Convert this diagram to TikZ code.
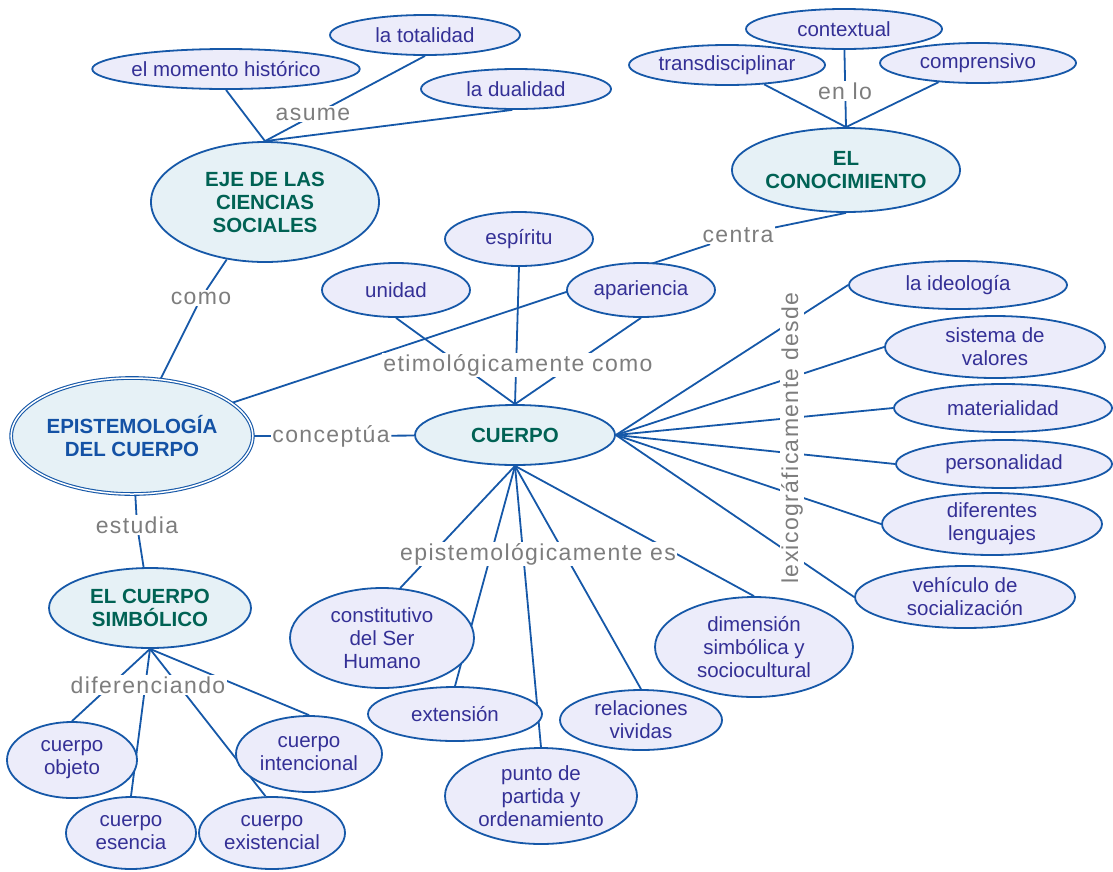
\documentclass[tikz,border=0pt]{standalone}
\usepackage{fontspec}
\setmainfont{Liberation Sans}
\newfontfamily\phrasefamily[LetterSpace=6]{Liberation Sans}
\usepackage{tikz}
\usetikzlibrary{shapes.geometric,backgrounds,positioning}

\definecolor{linkblue}{RGB}{22,88,168}
\definecolor{leaffill}{RGB}{236,236,250}
\definecolor{leaftext}{RGB}{52,48,150}
\definecolor{conceptfill}{RGB}{230,241,246}
\definecolor{concepttext}{RGB}{0,98,84}
\definecolor{epitext}{RGB}{20,82,165}
\definecolor{phrasegray}{RGB}{125,125,125}

\tikzset{
  leaf/.style={ellipse, draw=linkblue, line width=1.8pt, fill=leaffill, text=leaftext,
    align=center, inner sep=0pt, font=\fontsize{20.5}{23}\selectfont},
  concept/.style={ellipse, draw=linkblue, line width=1.8pt, fill=conceptfill, text=concepttext,
    align=center, inner sep=0pt, font=\fontsize{20.5}{23}\selectfont\bfseries},
  linkphrase/.style={fill=white, text=phrasegray, inner sep=1.5pt,
    font=\phrasefamily\fontsize{23}{25}\selectfont},
  connector/.style={draw=linkblue, line width=1.8pt}
}

\begin{document}
\begin{tikzpicture}[x=1pt,y=-1pt]
    \useasboundingbox (0,0) rectangle (1113,871);

    % Concepts
    \node[concept, minimum width=228, minimum height=120] (eje) at (265,202) {EJE DE LAS\\CIENCIAS\\SOCIALES};
    \node[concept, minimum width=228, minimum height=84] (conoc) at (846,170) {EL\\CONOCIMIENTO};
    \node[concept, text=epitext, line width=1.1pt, double=white, double distance=1.5pt,
          minimum width=232, minimum height=116] (epist) at (132,436) {EPISTEMOLOGÍA\\DEL CUERPO};
    \node[concept, minimum width=200, minimum height=60] (cuerpo) at (515,435) {CUERPO};
    \node[concept, minimum width=202, minimum height=80] (simb) at (150,608) {EL CUERPO\\SIMBÓLICO};

    % Leaves
    \foreach \nm/\x/\y/\w/\h/\txt in {
        totalidad/425/35/190/40/la totalidad,
        momento/226/69/258/40/el momento histórico,
        dualidad/516/89/190/40/la dualidad,
        contextual/844/29/196/40/contextual,
        transdisc/727/65/196/40/transdisciplinar,
        comprensivo/978/63/196/40/comprensivo,
        espiritu/519/239/148/54/espíritu,
        unidad/396/290/148/54/unidad,
        apariencia/641/290/148/54/apariencia,
        ideologia/958/285/218/48/la ideología,
        valores/995/347/220/62/{sistema de\\valores},
        material/1003/408/218/48/materialidad,
        personal/1004/464/216/48/personalidad,
        lenguajes/992/524/220/62/{diferentes\\lenguajes},
        socializ/965/597/220/62/{vehículo de\\socialización},
        constit/382/638/184/100/{constitutivo\\del Ser\\Humano},
        extension/455/714/174/54/extensión,
        punto/541/796/192/96/{punto de\\partida y\\ordenamiento},
        relaciones/641/720/162/60/{relaciones\\vividas},
        dimension/754/647/198/100/{dimensión\\simbólica y\\sociocultural},
        objeto/72/760/130/76/{cuerpo\\objeto},
        esencia/131/833/130/72/{cuerpo\\esencia},
        intencional/309/754/146/76/{cuerpo\\intencional},
        existencial/272/833/146/72/{cuerpo\\existencial}}
        \node[leaf, minimum width=\w, minimum height=\h] (\nm) at (\x,\y) {\txt};

    % Linking phrases
    \node[linkphrase] (asume) at (313,114) {asume};
    \node[linkphrase] (enlo) at (845,91) {en lo};
    \node[linkphrase] (centra) at (738,235) {centra};
    \node[linkphrase] (como) at (201,298) {como};
    \node[linkphrase] (conceptua) at (331,436) {conceptúa};
    \node[linkphrase] (estudia) at (137,525) {estudia};
    \node[linkphrase] (etimo) at (518,365) {etimológicamente como};
    \node[linkphrase] (episte) at (538,554) {epistemológicamente es};
    \node[linkphrase, rotate=90] (lexico) at (792,438) {lexicográficamente desde};
    \node[linkphrase] (difer) at (148,685) {diferenciando};

    % Connectors
    \begin{pgfonlayer}{background}
    \foreach \leafname/\anc in {totalidad/south, momento/south, dualidad/260}
        \draw[connector] (eje.north) -- (\leafname.\anc);
    \foreach \leafname in {transdisc,contextual,comprensivo}
        \draw[connector] (conoc.north) -- (\leafname);
    \foreach \leafname in {unidad,espiritu,apariencia}
        \draw[connector] (cuerpo.north) -- (\leafname.south);
    \foreach \leafname in {ideologia,valores,material,personal,lenguajes,socializ}
        \draw[connector] (cuerpo.east) -- (\leafname.west);
    \foreach \leafname/\anc in {constit/70, extension/north, punto/north, relaciones/north, dimension/north}
        \draw[connector] (cuerpo.south) -- (\leafname.\anc);
    \foreach \leafname/\anc in {objeto/north, esencia/north, existencial/100, intencional/north}
        \draw[connector] (simb.south) -- (\leafname.\anc);
    \draw[connector] (epist) -- (como);
    \draw[connector] (como) -- (eje);
    \draw[connector] (epist) -- (conceptua);
    \draw[connector] (conceptua) -- (cuerpo);
    \draw[connector] (epist) -- (estudia);
    \draw[connector] (estudia) -- (simb);
    \draw[connector] (epist) -- (centra);
    \draw[connector] (centra) -- (conoc.south);
    \end{pgfonlayer}
\end{tikzpicture}
\end{document}
